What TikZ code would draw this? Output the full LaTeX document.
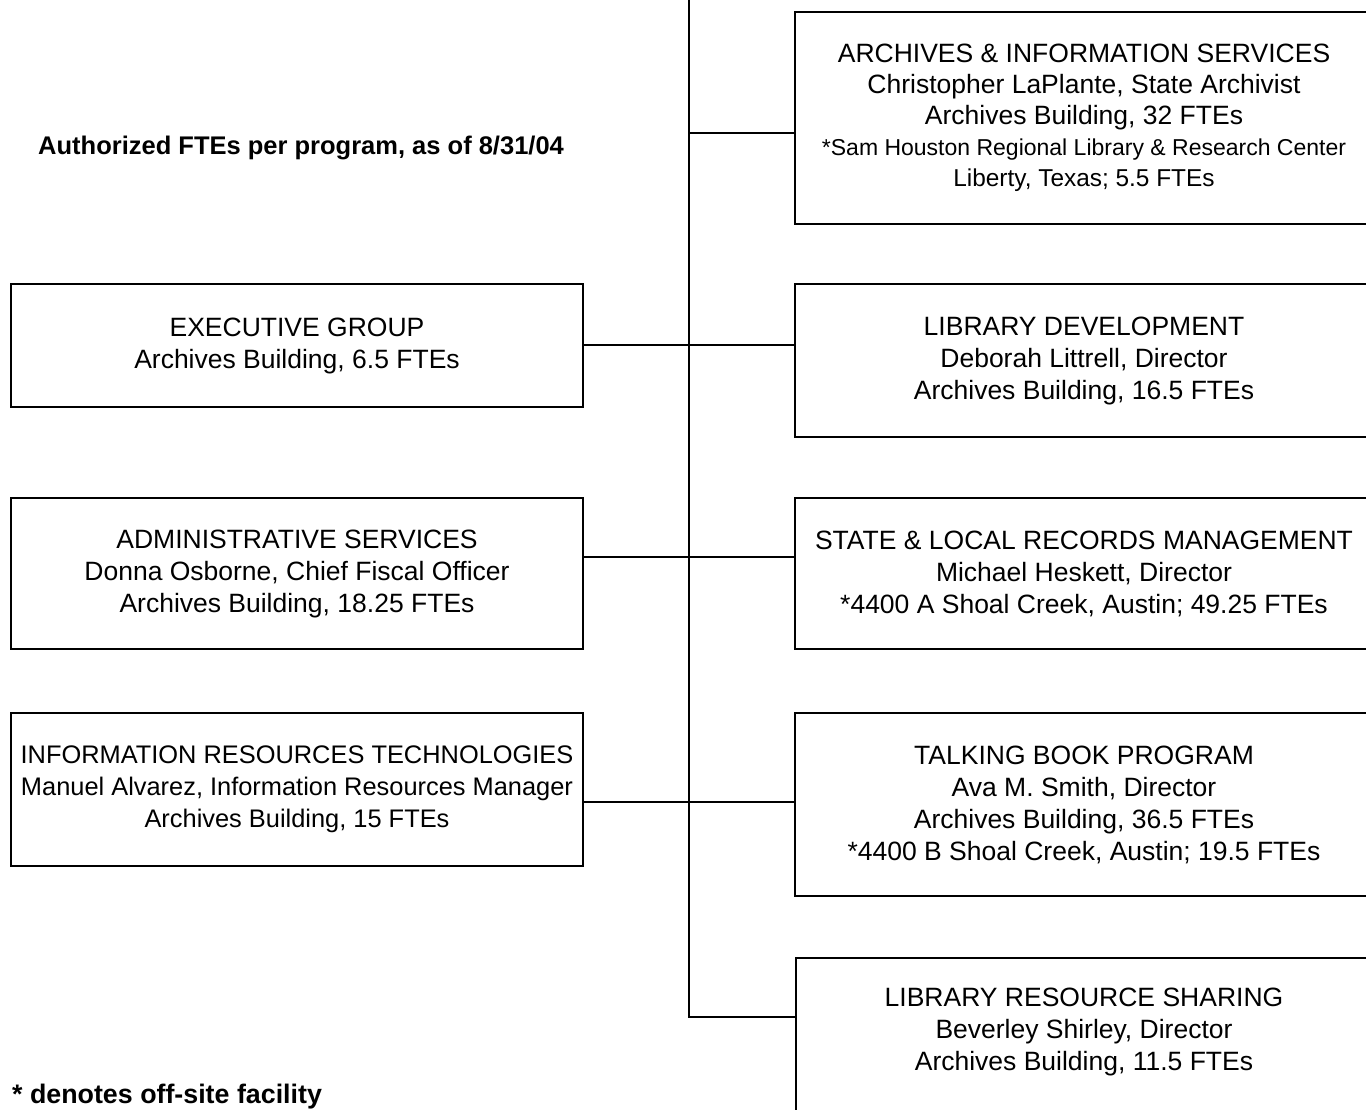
\documentclass[tikz,border=0pt]{standalone}
\usepackage{fontspec}
\setmainfont{Liberation Sans}
\newcommand{\smallln}{\fontsize{23}{31}\selectfont}
\newcommand{\midln}{\fontsize{24.4}{32}\selectfont}
\begin{document}
\begin{tikzpicture}[x=1pt,y=-1pt,
  box/.style={draw, line width=1.5pt, inner sep=0pt, align=center, minimum width=572pt, font=\fontsize{26.5}{32}\selectfont},
  rbox/.style={box, minimum width=578pt},
  link/.style={line width=1.5pt},
  note/.style={inner sep=0pt, anchor=west, font=\fontsize{25.5}{30}\selectfont\bfseries}]
\useasboundingbox (0,0) rectangle (1366,1109);
\clip (0,0) rectangle (1366,1109);
% right column
\node[rbox, minimum height=212pt, font=\fontsize{26.5}{31}\selectfont] (arch) at (1084,118)
  {ARCHIVES \& INFORMATION SERVICES\\Christopher LaPlante, State Archivist\\Archives Building, 32 FTEs\\
   \smallln *Sam Houston Regional Library \& Research Center\\\midln Liberty, Texas; 5.5 FTEs};
\node[rbox, minimum height=153pt] (lib) at (1084,360.5)
  {LIBRARY DEVELOPMENT\\Deborah Littrell, Director\\Archives Building, 16.5 FTEs};
\node[rbox, minimum height=151pt] (state) at (1084,573.5)
  {STATE \& LOCAL RECORDS MANAGEMENT\\Michael Heskett, Director\\*4400 A Shoal Creek, Austin; 49.25 FTEs};
\node[rbox, minimum height=183pt] (talk) at (1084,804.5)
  {TALKING BOOK PROGRAM\\Ava M. Smith, Director\\Archives Building, 36.5 FTEs\\*4400 B Shoal Creek, Austin; 19.5 FTEs};
\node[rbox, minimum height=200pt, anchor=north west] (lrs) at (795,957) {};
\node[inner sep=0pt, align=center, font=\fontsize{26.5}{32}\selectfont] (lrstext) at (1084,1031.5)
  {LIBRARY RESOURCE SHARING\\Beverley Shirley, Director\\Archives Building, 11.5 FTEs};
% left column
\node[box, minimum height=123pt] (exec) at (297,345.5)
  {EXECUTIVE GROUP\\Archives Building, 6.5 FTEs};
\node[box, minimum height=151pt] (admin) at (297,573.5)
  {ADMINISTRATIVE SERVICES\\Donna Osborne, Chief Fiscal Officer\\Archives Building, 18.25 FTEs};
\node[box, minimum height=153pt, font=\fontsize{25.4}{32}\selectfont] (irt) at (297,789.5)
  {INFORMATION RESOURCES TECHNOLOGIES\\Manuel Alvarez, Information Resources Manager\\Archives Building, 15 FTEs};
% notes
\node[note] (title) at (38,148) {Authorized FTEs per program, as of 8/31/04};
\node[note, font=\fontsize{26.8}{30}\selectfont\bfseries] (foot) at (12,1097) {* denotes off-site facility};
% trunk
\coordinate (top) at (689,0);
\coordinate (j1) at (689,133);
\coordinate (j2) at (689,345);
\coordinate (j3) at (689,557);
\coordinate (j4) at (689,802);
\coordinate (j5) at (689,1017);
\draw[link] (top) -- (j5) -- (lrs.west |- j5);
\draw[link] (j1) -- (arch.west |- j1);
\draw[link] (exec.east |- j2) -- (lib.west |- j2);
\draw[link] (admin.east |- j3) -- (state.west |- j3);
\draw[link] (irt.east |- j4) -- (talk.west |- j4);
\end{tikzpicture}
\end{document}
